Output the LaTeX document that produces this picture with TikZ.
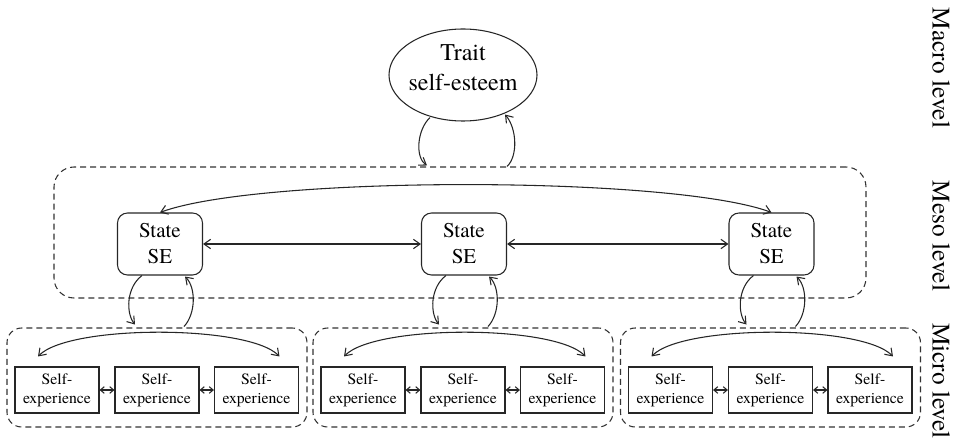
\documentclass[tikz,border=0pt]{standalone}
\usepackage{fontspec}
\setmainfont{TeX Gyre Termes}
\usetikzlibrary{arrows.meta,calc,shapes.geometric}
\begin{document}
\begin{tikzpicture}[x=0.75pt,y=-0.75pt,
  line width=0.8pt, draw=black!85,
  >={Straight Barb[length=5pt,width=7pt]},
  traitshape/.style={draw, ellipse, minimum width=111pt, minimum height=69pt, inner sep=0pt},
  traittxt/.style={align=center, inner sep=0pt, font=\rmfamily\fontsize{18}{22.5}\selectfont},
  statebox/.style={draw, rounded corners=7.5pt, minimum width=63.75pt, minimum height=46.5pt, inner sep=0pt, align=center, font=\rmfamily\fontsize{15.75}{19.5}\selectfont},
  sebox/.style={draw, minimum width=63pt, minimum height=34.5pt, inner sep=0pt, align=center, font=\rmfamily\fontsize{11.8}{14.3}\selectfont},
  group/.style={draw=black!80, line width=0.8pt, dash pattern=on 4.5pt off 3pt, inner sep=0pt},
  lvl/.style={rotate=-90, inner sep=0pt, font=\rmfamily\fontsize{19}{22}\selectfont},
  conn/.style={line width=0.8pt},
  small/.style={line width=0.8pt, {Straight Barb[length=3pt,width=5pt]}-{Straight Barb[length=3pt,width=5pt]}}
]
\useasboundingbox (0,0) rectangle (953,445);

% dashed groups
\node[group, rounded corners=15pt, minimum width=609pt, minimum height=98.25pt] (meso) at (460,232.5) {};
\node[group, rounded corners=11pt, minimum width=225pt, minimum height=74.25pt] (m1) at (157,377.5) {};
\node[group, rounded corners=11pt, minimum width=225pt, minimum height=74.25pt] (m2) at (463,377.5) {};
\node[group, rounded corners=11pt, minimum width=225pt, minimum height=74.25pt] (m3) at (770.5,377.5) {};

% trait
\node[traitshape] (trait) at (463,75) {};
\node[traittxt] (traittext) at (463,68) {Trait\\self-esteem};

% state boxes
\node[statebox] (s1) at (160,244) {State\\SE};
\node[statebox] (s2) at (464,244) {State\\SE};
\node[statebox] (s3) at (771.5,244) {State\\SE};

% self-experience boxes
\foreach \g/\cx in {1/157, 2/463, 3/770.5} {
  \node[sebox] (a\g) at (\cx-100,390) {Self-\\experience};
  \node[sebox] (b\g) at (\cx,390) {Self-\\experience};
  \node[sebox] (c\g) at (\cx+99.5,390) {Self-\\experience};
}

% levels
\node[lvl] (macro) at (941,68) {Macro level};
\node[lvl] (mesolvl) at (941,236) {Meso level};
\node[lvl] (microlvl) at (941,381) {Micro level};

% trait <-> meso loops
\draw[conn,->] ($(trait.south)+(-33,-4)$) .. controls ($(trait.south)+(-46,8)$) and ($(trait.south)+(-48,36)$) .. ($(meso.north)+(-33,-1)$);
\draw[conn,->] ($(meso.north)+(47,0)$) .. controls ($(meso.north)+(58,-10)$) and ($(meso.north)+(57,-38)$) .. ($(trait.south)+(42,-7)$);

% state arrows
\draw[conn,<->] (s1.east) -- (s2.west);
\draw[conn,<->] (s2.east) -- (s3.west);
\draw[conn,<->] (s1.north) .. controls ($(s1.north)+(100,-37)$) and ($(s3.north)+(-100,-37)$) .. (s3.north);

% state <-> micro loops
\foreach \s/\m in {s1/m1, s2/m2, s3/m3} {
  \draw[conn,->] ($(\s.south)+(-18,0)$) .. controls ($(\s.south)+(-34,12)$) and ($(\s.south)+(-34,38)$) .. ($(\s.south)+(-25,49)$);
  \draw[conn,->] ($(\s.south)+(24,51)$) .. controls ($(\s.south)+(36,38)$) and ($(\s.south)+(36,12)$) .. ($(\s.south)+(25,1)$);
}

% micro arrows
\foreach \g in {1,2,3} {
  \draw[small] (a\g.east) -- (b\g.west);
  \draw[small] (b\g.east) -- (c\g.west);
  \draw[conn,<->] ($(a\g.north)+(-19,-10)$) .. controls ($(a\g.north)+(12,-42)$) and ($(c\g.north)+(-8,-42)$) .. ($(c\g.north)+(23,-10)$);
}
\end{tikzpicture}
\end{document}
